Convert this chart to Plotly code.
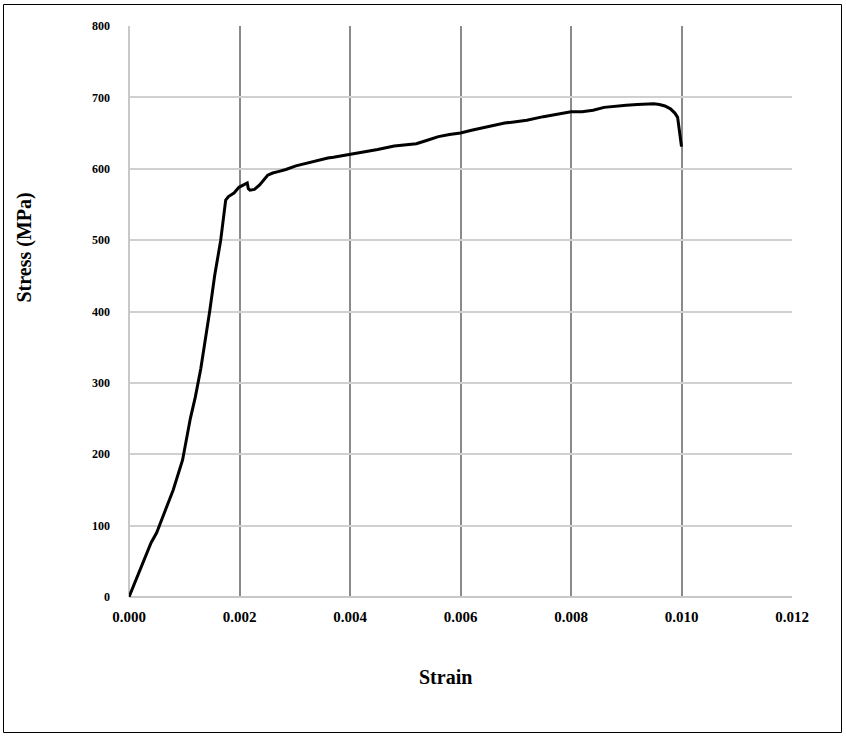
import plotly.graph_objects as go

strain = [0, 0.0002, 0.0004, 0.0005, 0.0006, 0.0008, 0.00097, 0.0010, 0.00111, 0.0012,
          0.0013, 0.00146, 0.00155, 0.00166, 0.00172, 0.00175, 0.00180, 0.00190, 0.00199,
          0.00208, 0.00214, 0.00216, 0.00219, 0.00227, 0.00236, 0.00251, 0.00260, 0.00270,
          0.00284, 0.00302, 0.00326, 0.00344, 0.0036, 0.0037, 0.0040, 0.0043, 0.0045,
          0.0048, 0.0050, 0.0052, 0.0054, 0.0056, 0.0058, 0.0060, 0.0062, 0.0065, 0.0068,
          0.0070, 0.0072, 0.0075, 0.0078, 0.0080, 0.0082, 0.0084, 0.0086, 0.0088, 0.0090,
          0.0092, 0.0094, 0.0095, 0.0096, 0.0097, 0.0098, 0.00988, 0.00993, 0.0100]
stress = [0, 38, 76, 90, 110, 150, 192, 205, 250, 280,
          320, 400, 450, 500, 540, 556, 561, 566, 574,
          578, 580, 572, 570, 571, 577, 591, 594, 596,
          599, 604, 609, 612, 615, 616, 620, 625, 627,
          632, 634, 635, 640, 645, 648, 650, 654, 659, 664,
          666, 668, 673, 677, 680, 680, 682, 686, 688, 689,
          690, 691, 691, 690, 688, 684, 678, 672, 631]

x_ticks = [0, 0.002, 0.004, 0.006, 0.008, 0.010, 0.012]
x_tick_labels = ["0.000", "0.002", "0.004", "0.006", "0.008", "0.010", "0.012"]
y_ticks = [0, 100, 200, 300, 400, 500, 600, 700, 800]

FONT = "Liberation Serif"

fig = go.Figure()
fig.add_trace(go.Scatter(x=strain, y=stress, mode="lines",
                         line=dict(color="black", width=3), showlegend=False))

L, R, T, B = 129, 54, 26, 147
W, H = 846, 744
pw, ph = W - L - R, H - T - B

def px(xp):
    return (xp - L) / pw

def py(yp):
    return (H - B - yp) / ph

fig.update_layout(
    width=W, height=H,
    margin=dict(l=L, r=R, t=T, b=B, pad=0),
    paper_bgcolor="white", plot_bgcolor="white",
    font=dict(family=FONT, color="black"),
    xaxis=dict(range=[0, 0.012], tickvals=x_ticks, ticktext=x_tick_labels,
               showgrid=True, gridcolor="#8a8a8a", gridwidth=1.5,
               zeroline=True, zerolinecolor="#c8c8c8", zerolinewidth=1.5,
               showline=False, ticks="", ticklabelstandoff=9,
               tickfont=dict(family=FONT, size=15, color="black", weight="bold")),
    yaxis=dict(range=[0, 800], tickvals=y_ticks,
               showgrid=True, gridcolor="#d0d0d0", gridwidth=1.5,
               zeroline=True, zerolinecolor="#c8c8c8", zerolinewidth=1.5,
               showline=False, ticks="", ticklabelstandoff=18,
               tickfont=dict(family=FONT, size=12, color="black", weight="bold")),
    annotations=[
        dict(text="<b>Strain</b>", xref="paper", yref="paper", x=px(445), y=py(677),
             xanchor="center", yanchor="middle", showarrow=False,
             font=dict(family=FONT, size=20, color="black")),
        dict(text="<b>Stress (MPa)</b>", xref="paper", yref="paper", x=px(24), y=py(247.5),
             xanchor="center", yanchor="middle", showarrow=False, textangle=-90,
             font=dict(family=FONT, size=20, color="black")),
    ],
    shapes=[
        dict(type="rect", xref="paper", yref="paper",
             x0=px(3.5), x1=px(841.5), y0=py(732.5), y1=py(4.5),
             line=dict(color="black", width=1), fillcolor="rgba(0,0,0,0)", layer="above"),
    ],
)

fig.write_html("out.html", config={"displayModeBar": False},
               post_script="document.body.style.margin='0';document.body.style.overflow='hidden';")
